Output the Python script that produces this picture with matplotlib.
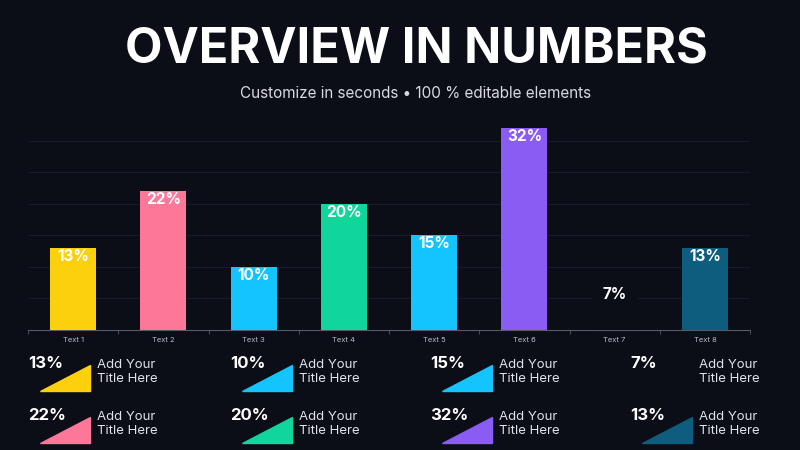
import matplotlib
matplotlib.use("Agg")
import matplotlib.pyplot as plt
from matplotlib.patches import Polygon

plt.rcParams['font.family'] = ['Inter', 'DejaVu Sans']

BG = '#0b0d17'

categories = ['Text 1', 'Text 2', 'Text 3', 'Text 4', 'Text 5', 'Text 6', 'Text 7', 'Text 8']
values = [13, 22, 10, 20, 15, 32, 7, 13]
colors = ['#fcd00c', '#fd7898', '#14c4fc', '#10d69c', '#14c4fc', '#8a5cf4', '#0b0d17', '#0e5c7e']

legend_order = [0, 1, 2, 3, 4, 5, 6, 7]

fig = plt.figure(figsize=(8, 4.5), dpi=100, facecolor=BG)
ax = fig.add_axes([0.035, 0.2667, 0.9025, 0.49])
ax.set_facecolor(BG)

x = list(range(len(categories)))
ax.bar(x, values, width=0.51, color=colors, zorder=3)
for xi, v in zip(x, values):
    ax.text(xi, v - 1.3, '{}%'.format(v), ha='center', va='center', color='white',
            fontsize=11, fontweight='bold', zorder=4)

ax.set_xlim(-0.5, 7.5)
ax.set_ylim(0, 35)
ax.set_yticks([5, 10, 15, 20, 25, 30])
ax.yaxis.grid(True, color='#181b28', linewidth=0.8, zorder=0)
ax.tick_params(axis='y', left=False, labelleft=False)
ax.set_xticks(x)
ax.set_xticklabels(categories, color='#b8bcc8', fontsize=5.5)
ax.set_xticks([i + 0.5 for i in range(-1, 8)], minor=True)
ax.tick_params(axis='x', which='major', length=0, pad=5)
ax.tick_params(axis='x', which='minor', length=3, color='#555a66')
for s in ['top', 'right', 'left']:
    ax.spines[s].set_visible(False)
ax.spines['bottom'].set_color('#555a66')

fig.text(0.52, 0.89, 'OVERVIEW IN NUMBERS', ha='center', va='center', color='white',
         fontsize=35, fontweight='bold')
fig.text(0.52, 0.793, 'Customize in seconds • 100 % editable elements', ha='center',
         va='center', color='#d8dae0', fontsize=11)

col_x = [28, 230, 430, 630]
row_y = [363, 415]
for k, idx in enumerate(legend_order):
    c, r = k // 2, k % 2
    px, py = col_x[c], row_y[r]
    fig.text(px / 800, 1 - py / 450, '{}%'.format(values[idx]), ha='left', va='center',
             color='white', fontsize=12, fontweight='bold')
    tri = Polygon([((px + 12) / 800, 1 - (py + 28) / 450),
                   ((px + 62) / 800, 1 - (py + 28) / 450),
                   ((px + 62) / 800, 1 - (py + 2) / 450)],
                  closed=True, transform=fig.transFigure, color=colors[idx])
    fig.patches.append(tri)
    fig.text((px + 69) / 800, 1 - (py + 9) / 450, 'Add Your\nTitle Here', ha='left',
             va='center', color='#e0e2e8', fontsize=9.5, linespacing=1.25)

fig.savefig('out.png', dpi=100, facecolor=BG)
